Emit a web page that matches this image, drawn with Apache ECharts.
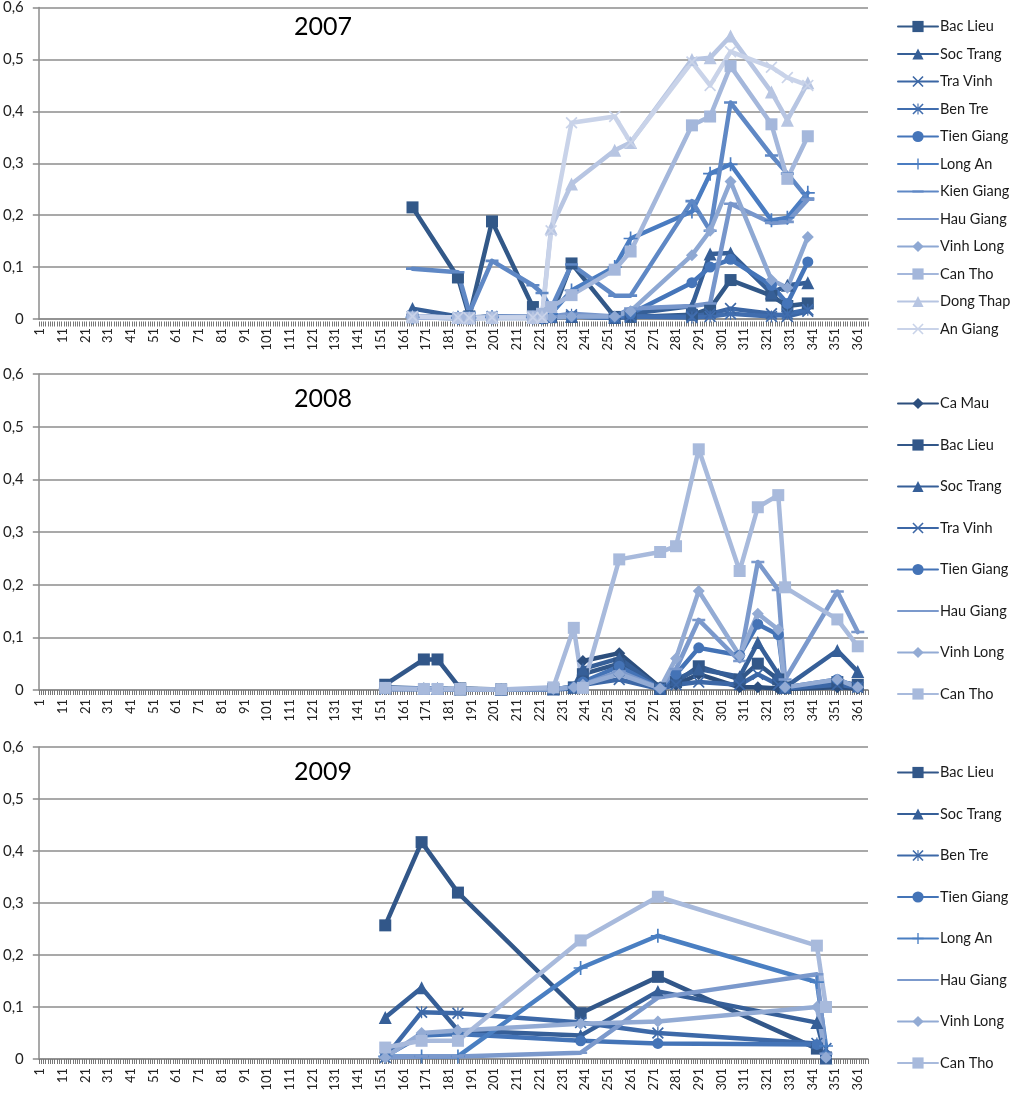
<!DOCTYPE html>
<html>
<head>
<meta charset="utf-8">
<title>2007 - 2009</title>
<script src="https://cdn.jsdelivr.net/npm/echarts@6/dist/echarts.min.js"></script>
<style>
  html, body { margin: 0; padding: 0; background: #fff; }
  #main { width: 1024px; height: 1095px; }
</style>
</head>
<body>
<div id="main"></div>
<script>
// ---- data ----
var cats = [];
for (var d = 1; d <= 365; d++) cats.push(String(d));

// 2007
var days2007 = [165, 185, 190, 200, 218, 222, 226, 235, 254, 261, 288, 296, 305, 323, 330, 339];
var bacLieu2007   = [0.215, 0.08, 0.005, 0.188, 0.023, 0.008, 0.004, 0.107, 0.004, 0.004, 0.008, 0.02, 0.075, 0.045, 0.025, 0.03];
var socTrang2007  = [0.02, 0.005, 0.003, 0.005, 0.005, 0.003, 0.005, 0.005, 0.003, 0.01, 0.025, 0.125, 0.127, 0.05, 0.065, 0.07];
var traVinh2007   = [0.005, 0.003, 0.002, 0.003, 0.003, 0.002, 0.003, 0.005, 0.002, 0.005, 0.005, 0.01, 0.02, 0.01, 0.005, 0.015];
var benTre2007    = [0.005, 0.002, 0.002, 0.005, 0.003, 0.002, 0.003, 0.008, 0.003, 0.005, 0.003, 0.005, 0.01, 0.005, 0.01, 0.018];
var tienGiang2007 = [0.003, 0.002, 0.002, 0.002, 0.002, 0.002, 0.003, 0.005, 0.003, 0.01, 0.07, 0.1, 0.115, 0.065, 0.03, 0.11];
var longAn2007    = [0.003, 0.002, 0.002, 0.003, 0.003, 0.003, 0.01, 0.055, 0.1, 0.155, 0.207, 0.28, 0.298, 0.19, 0.195, 0.243];
var kienGiang2007 = [0.097, 0.09, 0.012, 0.112, 0.065, 0.05, 0.02, 0.105, 0.045, 0.045, 0.227, 0.17, 0.417, 0.315, 0.28, 0.232];
var hauGiang2007  = [0.005, 0.003, 0.002, 0.005, 0.005, 0.003, 0.005, 0.01, 0.005, 0.02, 0.025, 0.03, 0.222, 0.185, 0.187, 0.23];
var vinhLong2007  = [0.003, 0.002, 0.002, 0.003, 0.003, 0.003, 0.003, 0.005, 0.005, 0.015, 0.123, 0.17, 0.265, 0.075, 0.06, 0.158];
var canTho2007    = [0.003, 0.002, 0.002, 0.003, 0.005, 0.01, 0.023, 0.046, 0.095, 0.13, 0.373, 0.39, 0.487, 0.375, 0.27, 0.352];
var dongThap2007  = [0.005, 0.003, 0.002, 0.003, 0.003, 0.005, 0.175, 0.26, 0.325, 0.34, 0.5, 0.503, 0.545, 0.437, 0.383, 0.455];
var anGiang2007   = [0.005, 0.003, 0.002, 0.003, 0.003, 0.003, 0.17, 0.378, 0.39, 0.34, 0.495, 0.45, 0.515, 0.485, 0.465, 0.45];

// 2008
var days2008 = [153, 170, 176, 186, 204, 227, 236, 240, 256, 274, 281, 291, 309, 317, 326, 329, 352, 361];
var caMau2008     = [null, null, null, null, null, null, null, 0.055, 0.07, 0.005, 0.01, 0.03, 0.005, 0.005, 0.003, 0.002, 0.005, 0.003];
var bacLieu2008   = [0.01, 0.058, 0.058, 0.003, 0.001, 0.002, 0.005, 0.03, 0.05, 0.003, 0.015, 0.045, 0.02, 0.05, 0.02, 0.005, 0.015, 0.01];
var socTrang2008  = [0.005, 0.003, 0.003, 0.002, 0.001, 0.002, 0.005, 0.04, 0.06, 0.003, 0.02, 0.04, 0.025, 0.09, 0.03, 0.005, 0.075, 0.035];
var traVinh2008   = [0.002, 0.002, 0.002, 0.001, 0.001, 0.001, 0.003, 0.01, 0.02, 0.002, 0.01, 0.015, 0.01, 0.03, 0.01, 0.003, 0.01, 0.005];
var tienGiang2008 = [0.002, 0.002, 0.002, 0.001, 0.001, 0.002, 0.005, 0.015, 0.045, 0.003, 0.03, 0.08, 0.066, 0.125, 0.105, 0.005, 0.02, 0.005];
var hauGiang2008  = [0.002, 0.002, 0.002, 0.001, 0.001, 0.002, 0.005, 0.01, 0.035, 0.003, 0.04, 0.133, 0.055, 0.243, 0.19, 0.02, 0.187, 0.11];
var vinhLong2008  = [0.002, 0.002, 0.002, 0.001, 0.001, 0.002, 0.005, 0.01, 0.03, 0.003, 0.06, 0.188, 0.065, 0.145, 0.115, 0.005, 0.02, 0.005];
var canTho2008    = [0.004, 0.002, 0.002, 0.002, 0.001, 0.005, 0.118, 0.004, 0.248, 0.262, 0.273, 0.457, 0.226, 0.347, 0.37, 0.195, 0.134, 0.083];

// 2009
var days2009 = [153, 169, 185, 239, 273, 343, 347];
var bacLieu2009   = [0.257, 0.417, 0.32, 0.088, 0.158, 0.02, 0.003];
var socTrang2009  = [0.08, 0.137, 0.055, 0.045, 0.13, 0.07, 0.002];
var benTre2009    = [0.003, 0.09, 0.088, 0.07, 0.05, 0.03, 0.02];
var tienGiang2009 = [0.005, 0.045, 0.048, 0.035, 0.03, 0.028, 0.005];
var longAn2009    = [0.005, 0.005, 0.005, 0.175, 0.237, 0.148, 0.025];
var hauGiang2009  = [0.003, 0.005, 0.005, 0.012, 0.118, 0.163, 0.01];
var vinhLong2009  = [0.003, 0.05, 0.055, 0.068, 0.072, 0.1, 0.003];
var canTho2009    = [0.022, 0.035, 0.035, 0.228, 0.312, 0.218, 0.1];

var yTicks = [0, 0.1, 0.2, 0.3, 0.4, 0.5, 0.6];

// ---- style ----
var FONT = 'Lato, "Open Sans", sans-serif';
var GRAY = '#8c8c8c';

var SYM = {
    square: 'rect',
    triangle: 'triangle',
    diamond: 'diamond',
    circle: 'circle',
    x: 'path://M0,1L1,0L5,4L9,0L10,1L6,5L10,9L9,10L5,6L1,10L0,9L4,5Z',
    star: 'path://M0,1L1,0L5,4L9,0L10,1L6,5L10,9L9,10L5,6L1,10L0,9L4,5Z M4.5,0H5.5V10H4.5Z',
    plus: 'path://M4.4,0H5.6V4.4H10V5.6H5.6V10H4.4V5.6H0V4.4H4.4Z',
    dash: 'path://M0,4H10V6H0Z M0,0H0.02V0.02H0Z M10,9.98H9.98V10H10Z'
};
var SIZE = { square: 12, triangle: 13, diamond: 12, circle: 11, x: 12, star: 12, plus: 14, dash: 13 };

function mk(name, year, gi, days, vals, sym, color) {
    var data = [];
    days.forEach(function (d, i) {
        if (vals[i] != null) data.push([String(d), vals[i]]);
    });
    return {
        name: name + '|' + year,
        type: 'line',
        xAxisIndex: gi,
        yAxisIndex: gi,
        data: data,
        symbol: SYM[sym],
        symbolSize: SIZE[sym],
        showAllSymbol: true,
        lineStyle: { width: 4.5, color: color, cap: 'round', join: 'round' },
        itemStyle: { color: color, opacity: 1 },
        emphasis: { disabled: true }
    };
}

var series = [
    mk('Bac Lieu',   2007, 0, days2007, bacLieu2007,   'square',   '#325888'),
    mk('Soc Trang',  2007, 0, days2007, socTrang2007,  'triangle', '#365f97'),
    mk('Tra Vinh',   2007, 0, days2007, traVinh2007,   'x',        '#3b66a4'),
    mk('Ben Tre',    2007, 0, days2007, benTre2007,    'star',     '#406dae'),
    mk('Tien Giang', 2007, 0, days2007, tienGiang2007, 'circle',   '#4575b9'),
    mk('Long An',    2007, 0, days2007, longAn2007,    'plus',     '#4a7cc1'),
    mk('Kien Giang', 2007, 0, days2007, kienGiang2007, 'dash',     '#5f88c5'),
    mk('Hau Giang',  2007, 0, days2007, hauGiang2007,  'dash',     '#7796cb'),
    mk('Vinh Long',  2007, 0, days2007, vinhLong2007,  'diamond',  '#8ea8d3'),
    mk('Can Tho',    2007, 0, days2007, canTho2007,    'square',   '#a4b7db'),
    mk('Dong Thap',  2007, 0, days2007, dongThap2007,  'triangle', '#b7c5e2'),
    mk('An Giang',   2007, 0, days2007, anGiang2007,   'x',        '#c9d3e9'),

    mk('Ca Mau',     2008, 1, days2008, caMau2008,     'diamond',  '#2c4e7d'),
    mk('Bac Lieu',   2008, 1, days2008, bacLieu2008,   'square',   '#325789'),
    mk('Soc Trang',  2008, 1, days2008, socTrang2008,  'triangle', '#365f98'),
    mk('Tra Vinh',   2008, 1, days2008, traVinh2008,   'x',        '#3c67a6'),
    mk('Tien Giang', 2008, 1, days2008, tienGiang2008, 'circle',   '#4473b6'),
    mk('Hau Giang',  2008, 1, days2008, hauGiang2008,  'dash',     '#7b99cc'),
    mk('Vinh Long',  2008, 1, days2008, vinhLong2008,  'diamond',  '#93abd4'),
    mk('Can Tho',    2008, 1, days2008, canTho2008,    'square',   '#a8badc'),

    mk('Bac Lieu',   2009, 2, days2009, bacLieu2009,   'square',   '#325789'),
    mk('Soc Trang',  2009, 2, days2009, socTrang2009,  'triangle', '#365f98'),
    mk('Ben Tre',    2009, 2, days2009, benTre2009,    'star',     '#3d69a8'),
    mk('Tien Giang', 2009, 2, days2009, tienGiang2009, 'circle',   '#4474b7'),
    mk('Long An',    2009, 2, days2009, longAn2009,    'plus',     '#4a7fc2'),
    mk('Hau Giang',  2009, 2, days2009, hauGiang2009,  'dash',     '#7b99cc'),
    mk('Vinh Long',  2009, 2, days2009, vinhLong2009,  'diamond',  '#93abd4'),
    mk('Can Tho',    2009, 2, days2009, canTho2009,    'square',   '#a8badc')
];

function namesOf(year) {
    return series.filter(function (s) { return s.name.split('|')[1] === String(year); })
                 .map(function (s) { return s.name; });
}

var grids = [
    { left: 38.5, right: 156, top: 5, height: 314 },
    { left: 38.5, right: 156, top: 374, height: 316 },
    { left: 38.5, right: 156, top: 747, height: 312 }
];

function xAx(gi) {
    return {
        type: 'category', gridIndex: gi, position: 'bottom', data: cats, boundaryGap: true,
        axisLine: { lineStyle: { color: GRAY, width: 1.5 } },
        axisTick: { show: false },
        axisLabel: { interval: 9, rotate: 90, margin: 9, fontSize: 13, color: '#222', fontFamily: FONT },
        splitLine: { show: false }
    };
}
// one tick per day boundary: a plain value axis on the same extent,
// placed at the top slot and shifted down onto the bottom edge of the grid
function tickAx(gi) {
    return {
        type: 'value', gridIndex: gi, position: 'top', offset: -grids[gi].height,
        min: 0, max: cats.length, interval: 1,
        axisLine: { show: false, onZero: false },
        axisTick: { show: true, inside: true, length: 5, lineStyle: { color: '#777', width: 1 } },
        axisLabel: { show: false },
        splitLine: { show: false }
    };
}
function yAx(gi) {
    return {
        type: 'value', gridIndex: gi, min: 0, max: yTicks[yTicks.length - 1], interval: 0.1,
        axisLine: { show: true, lineStyle: { color: GRAY, width: 1.5 } },
        axisTick: { show: true, length: 6, lineStyle: { color: GRAY, width: 1.5 } },
        axisLabel: {
            margin: 15, fontSize: 15, color: '#222', fontFamily: FONT,
            formatter: function (v) { return v === 0 ? '0' : v.toFixed(1).replace('.', ','); }
        },
        splitLine: { lineStyle: { color: GRAY, width: 1.5 } }
    };
}
function leg(year, top, gap) {
    return {
        data: namesOf(year), orient: 'vertical', left: 897, top: top,
        itemWidth: 40, itemHeight: 14, itemGap: gap, selectedMode: false, padding: 0,
        formatter: function (n) { return n.split('|')[0]; },
        textStyle: { fontSize: 14.5, color: '#1a1a1a', fontFamily: FONT, padding: [0, 0, 0, -3] }
    };
}

var chart = echarts.init(document.getElementById('main'));
chart.setOption({
    animation: false,
    backgroundColor: '#fff',
    grid: grids,
    xAxis: [xAx(0), xAx(1), xAx(2), tickAx(0), tickAx(1), tickAx(2)],
    yAxis: [yAx(0), yAx(1), yAx(2)],
    legend: [leg(2007, 19, 12.5), leg(2008, 396, 26.5), leg(2009, 765, 26.5)],
    graphic: [
        { type: 'text', x: 323, y: 27,  style: { text: '2007', textAlign: 'center', textVerticalAlign: 'middle', fontSize: 25, fill: '#000', fontFamily: FONT } },
        { type: 'text', x: 323, y: 399, style: { text: '2008', textAlign: 'center', textVerticalAlign: 'middle', fontSize: 25, fill: '#000', fontFamily: FONT } },
        { type: 'text', x: 323, y: 772, style: { text: '2009', textAlign: 'center', textVerticalAlign: 'middle', fontSize: 25, fill: '#000', fontFamily: FONT } }
    ],
    series: series
});
</script>
</body>
</html>
